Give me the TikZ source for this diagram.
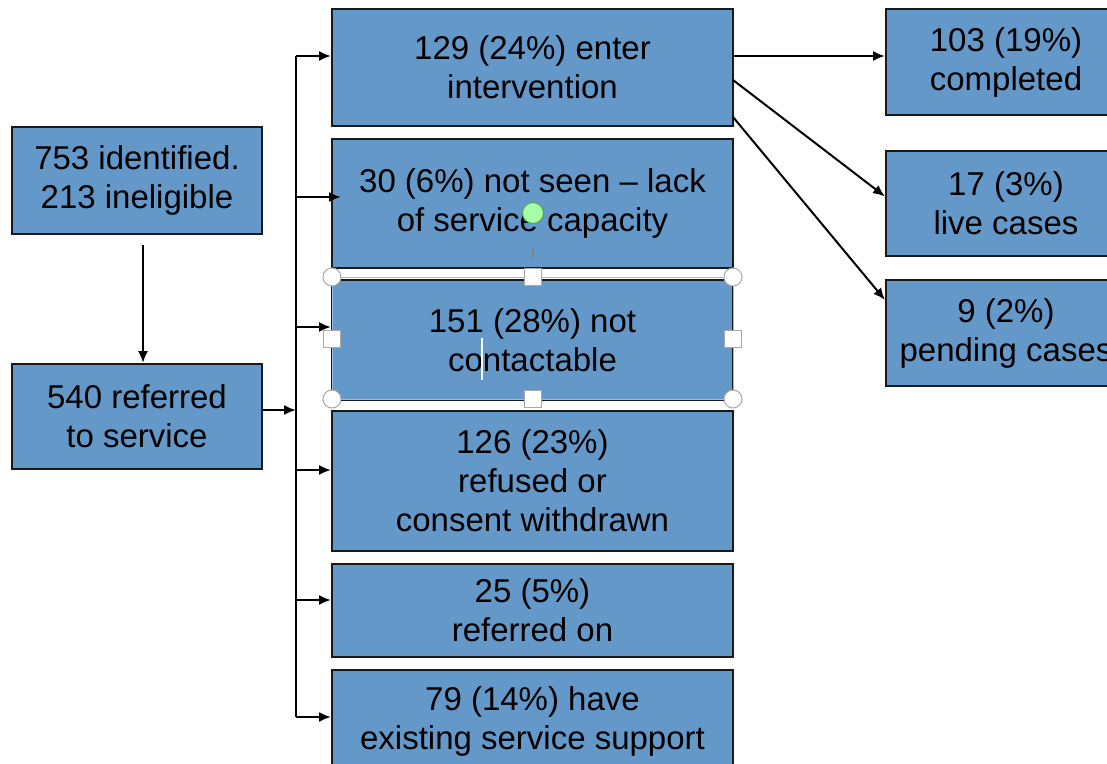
\documentclass[tikz,border=0pt]{standalone}
\usepackage{fontspec}
\setmainfont{Liberation Sans}
\usetikzlibrary{arrows.meta,calc}
\definecolor{boxblue}{HTML}{6498C8}
\definecolor{handlegray}{HTML}{A8A8A8}
\definecolor{selblue}{HTML}{9DBBE0}
\tikzset{
  box/.style={draw=black!90, line width=2pt, fill=boxblue, align=center,
    inner sep=0pt, font=\fontsize{33}{39}\selectfont},
  conn/.style={line width=2pt, draw=black},
  arr/.style={conn, -{Latex[length=12pt,width=10pt]}},
  chandle/.style={draw=handlegray, fill=white, line width=1pt},
}
\begin{document}
\begin{tikzpicture}[x=1pt,y=-1pt]
\useasboundingbox (0,0) rectangle (1107,763);
\clip (0,0) rectangle (1107,763);
% left column
\node[box, minimum width=250pt, minimum height=107pt] (A) at (137,180.5) {753 identified.\\213 ineligible};
\node[box, minimum width=250pt, minimum height=105pt] (B) at (137,416.5) {540 referred\\to service};
% middle column
\node[box, minimum width=401pt, minimum height=117pt] (M1) at (532.5,67.5) {129 (24\%) enter\\intervention};
\node[box, minimum width=401pt, minimum height=129pt] (M2) at (532.5,203.5) {30 (6\%) not seen -- lack\\of service capacity};
\node[box, minimum width=401pt, minimum height=120pt] (M3) at (532.5,340) {151 (28\%) not\\contactable};
\node[box, minimum width=401pt, minimum height=140pt] (M4) at (532.5,481) {126 (23\%)\\refused or\\consent withdrawn};
\node[box, minimum width=401pt, minimum height=93pt] (M5) at (532.5,610.5) {25 (5\%)\\referred on};
\node[box, minimum width=401pt, minimum height=102pt] (M6) at (532.5,721) {79 (14\%) have\\existing service support};
% right column
\node[box, minimum width=240pt, minimum height=106pt] (R1) at (1006,62) {103 (19\%)\\completed};
\node[box, minimum width=240pt, minimum height=105pt] (R2) at (1006,203.5) {17 (3\%)\\live cases};
\node[box, minimum width=240pt, minimum height=106pt] (R3) at (1006,333) {9 (2\%)\\pending cases};
% connectors left
\coordinate (As) at (143,245);
\draw[arr] (As) -- (As |- B.north);
\coordinate (tB) at (296,410);
\draw[arr] (B.east |- tB) -- (tB);
\coordinate (t1) at (296,56);
\coordinate (t2) at (296,197);
\coordinate (t3) at (296,327);
\coordinate (t4) at (296,470);
\coordinate (t5) at (296,600);
\coordinate (t6) at (296,717);
\draw[conn] (t1) -- (t6);
\draw[arr] (t1) -- (M1.west |- t1);
\draw[arr] (t2) -- ([xshift=10pt]M2.west |- t2);
\draw[arr] (t3) -- (M3.west |- t3);
\draw[arr] (t4) -- (M4.west |- t4);
\draw[arr] (t5) -- (M5.west |- t5);
\draw[arr] (t6) -- (M6.west |- t6);
% connectors right
\coordinate (m1a) at (733,56);
\coordinate (m1b) at (733,80);
\coordinate (m1c) at (733,117);
\draw[arr] (m1a) -- (R1.west |- m1a);
\draw[arr] (m1b) -- ([yshift=7pt]R2.west);
\draw[arr] (m1c) -- ([yshift=33pt]R3.west);
% selection frame around M3 (editor handles)
\fill[white] (332,270) rectangle (733,279);
\fill[white] (332,401) rectangle (733,410);
\draw[selblue, line width=0.8pt] (332,277) rectangle (733,399);
\draw[black!90, line width=2pt] (332,280) -- (733,280);
\foreach \p in {(332,277),(733,277),(332,399),(733,399)}
  \draw[chandle] \p circle (9pt);
\foreach \p in {(533,277),(332,339),(733,339),(533,399)}
  \draw[chandle] \p ++(-8.5,-8.5) rectangle ++(17,17);
\draw[white, line width=1.5pt] (482,338) -- (482,380);
\draw[gray, line width=1.2pt] (533,249) -- (533,258);
\draw[draw=green!50!black!70, fill=green!35!white, line width=1pt] (533,213) circle (10.5pt);
\end{tikzpicture}
\end{document}
